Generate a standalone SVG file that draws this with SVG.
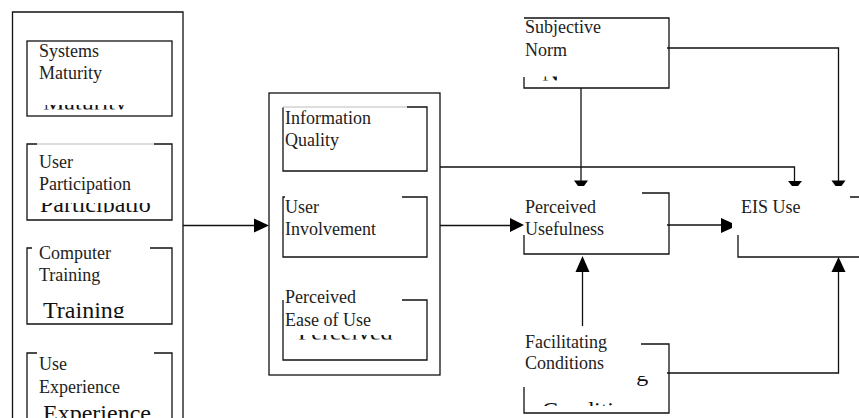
<svg xmlns="http://www.w3.org/2000/svg" width="859" height="418" viewBox="0 0 859 418">
<defs>
<style>
.t{font-family:"Liberation Serif","Times New Roman",serif;font-size:18px;fill:#222}
.b{font-family:"Liberation Serif","Times New Roman",serif;font-size:24px;fill:#111}
.ln{fill:none;stroke:#111;stroke-width:1.3}
.lg{fill:none;stroke:#bbb;stroke-width:1}
.ah{fill:#000;stroke:none}
</style>
</defs>

<g id="outer-left">
<path class="ln" d="M12.5,419 V12 H183 V419"/>
</g>

<g id="systems-maturity">
<rect class="ln" x="27" y="41" width="145" height="75"/>
<text class="t" x="39" y="57">Systems</text>
<text class="t" x="39" y="79">Maturity</text>
<svg x="30" y="105" width="130" height="4.5" viewBox="30 105 130 4.5" overflow="hidden"><text class="b" x="43" y="109.5">Maturity</text></svg>
</g>

<g id="user-participation">
<path class="lg" d="M37,144 H154"/>
<path class="ln" d="M37,144 H27 V220 H172 V144 H154"/>
<text class="t" x="39" y="168">User</text>
<text class="t" x="39" y="190">Participation</text>
<svg x="30" y="203" width="140" height="9.5" viewBox="30 203 140 9.5" overflow="hidden"><text class="b" x="40" y="212">Participatio</text></svg>
</g>

<g id="computer-training">
<path class="ln" d="M32,248 H27 V324 H172 V248 H150"/>
<text class="t" x="39" y="259">Computer</text>
<text class="t" x="39" y="281">Training</text>
<svg x="30" y="303" width="140" height="15" viewBox="30 303 140 15" overflow="hidden"><text class="b" x="43" y="317.5">Training</text></svg>
</g>

<g id="use-experience">
<path class="ln" d="M37,353 H27 V419 M172,419 V353 H154"/>
<text class="t" x="39" y="370">Use</text>
<text class="t" x="39" y="393">Experience</text>
<svg x="30" y="400" width="140" height="18" viewBox="30 400 140 18" overflow="hidden"><text class="b" x="43" y="421">Experience</text></svg>
</g>

<g id="middle-group">
<rect class="ln" x="269" y="93" width="171" height="282"/>
</g>

<g id="information-quality">
<path class="lg" d="M283,107 H407"/>
<path class="ln" d="M283,107.5 V171 H427 V107 H407"/>
<text class="t" x="285" y="124">Information</text>
<text class="t" x="285" y="146">Quality</text>
</g>

<g id="user-involvement">
<path class="ln" d="M285,197 H283 V257 H427 V197 H402"/>
<text class="t" x="285" y="213">User</text>
<text class="t" x="285" y="235">Involvement</text>
</g>

<g id="perceived-ease-of-use">
<path class="ln" d="M283,300 V360 H427 V300 H402"/>
<text class="t" x="285" y="303">Perceived</text>
<text class="t" x="285" y="326">Ease of Use</text>
<svg x="290" y="335" width="120" height="4.5" viewBox="290 335 120 4.5" overflow="hidden"><text class="b" x="298" y="339.5">Perceived</text></svg>
</g>

<g id="subjective-norm">
<path class="ln" d="M524,77 V88 H669 V18 H524"/>
<text class="t" x="525" y="33">Subjective</text>
<text class="t" x="525" y="56">Norm</text>
<svg x="540" y="76.5" width="17" height="4" viewBox="540 76.5 17 4" overflow="hidden"><text class="b" x="542" y="80.5">Norm</text></svg>
</g>

<g id="perceived-usefulness">
<path class="ln" d="M524,235 V254 H669 V193 H642"/>
<text class="t" x="525" y="213">Perceived</text>
<text class="t" x="525" y="235">Usefulness</text>
</g>

<g id="eis-use">
<path class="ln" d="M738,235 V257 H860 M850,197 H860"/>
<text class="t" x="741" y="213">EIS Use</text>
</g>

<g id="facilitating-conditions">
<path class="ln" d="M524,387 V413 H669 V344 H641"/>
<text class="t" x="525" y="348">Facilitating</text>
<text class="t" x="525" y="369">Conditions</text>
<svg x="636" y="376" width="14" height="11" viewBox="636 376 14 11" overflow="hidden"><text class="b" x="539" y="381">Facilitating</text></svg>
<svg x="540" y="401.5" width="75" height="4.5" viewBox="540 401.5 75 4.5" overflow="hidden"><text class="b" x="542" y="418">Conditions</text></svg>
</g>

<g id="connectors">
<path class="ln" d="M183,225.5 H255"/>
<polygon class="ah" points="254,218.5 269,225.5 254,232.5"/>
<path class="ln" d="M440,225.5 H511"/>
<polygon class="ah" points="510,218 524,225 510,232"/>
<path class="ln" d="M667,225 H722"/>
<polygon class="ah" points="721,218 732,223 732,228 721,233"/>
<path class="ln" d="M440,167 H794.5 V181"/>
<polygon class="ah" points="788,181 802,181 798,186 792,186"/>
<path class="ln" d="M581,88 V181"/>
<polygon class="ah" points="574,180.5 588,180.5 584,186 578,186"/>
<path class="ln" d="M667,48 H838.5 V181"/>
<polygon class="ah" points="831.5,180.5 845.5,180.5 841.5,186 835.5,186"/>
<path class="ln" d="M582.5,326 V271"/>
<polygon class="ah" points="575.5,272 582.5,256 589.5,272"/>
<path class="ln" d="M667,373 H838.5 V271"/>
<polygon class="ah" points="831.5,272 838.5,257 845.5,272"/>
</g>
</svg>
